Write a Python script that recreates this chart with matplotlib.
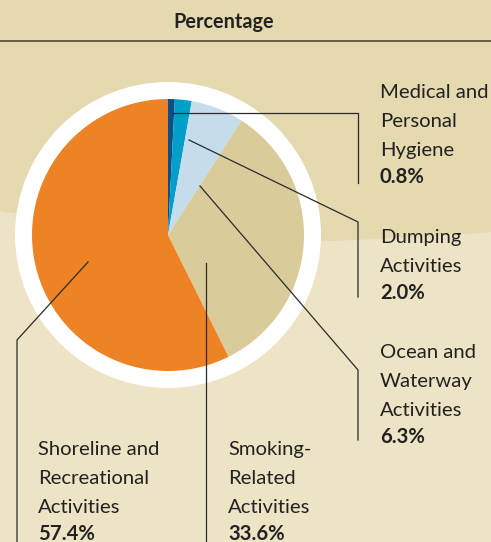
import matplotlib.pyplot as plt
from matplotlib.patches import Circle, Polygon

# data
categories = [['Medical and', 'Personal', 'Hygiene'], ['Dumping', 'Activities'],
              ['Ocean and', 'Waterway', 'Activities'], ['Smoking-', 'Related', 'Activities'],
              ['Shoreline and', 'Recreational', 'Activities']]
values = [0.8, 2.0, 6.3, 33.6, 57.4]
colors = ['#0b4f8a', '#009ec8', '#c5dcea', '#d9cc9a', '#ee8326']

W, H = 491, 542
fig = plt.figure(figsize=(W / 100, H / 100), dpi=100)
ax = fig.add_axes([0, 0, 1, 1])
plt.rcParams['font.family'] = ['Lato', 'DejaVu Sans']


def Y(py):
    return H - py


# background: light lower area, darker upper band
ax.add_patch(Polygon([(0, Y(0)), (W, Y(0)), (W, Y(232)), (420, Y(237)), (330, Y(241)),
                      (240, Y(239)), (150, Y(232)), (70, Y(222)), (0, Y(211))],
                     closed=True, facecolor='#e5d9b0', edgecolor='none', zorder=0))
ax.set_facecolor('#ede3c5')

# title
ax.text(224, Y(22), 'Percentage', ha='center', va='center', fontsize=14.3,
        fontweight='bold', color='#222222')
ax.plot([0, W], [Y(40.5), Y(40.5)], color='#5a5548', lw=1.3)

# pie with white ring
cx, cy, r = 168, Y(235), 136
ax.add_patch(Circle((cx, cy), 153, facecolor='white', edgecolor='none', zorder=1))
wedges, _ = ax.pie(values, colors=colors, startangle=90, counterclock=False,
                   center=(cx, cy), radius=r, wedgeprops=dict(linewidth=0))
for w in wedges:
    w.set_zorder(2)

# leader lines (pixel coordinates)
leaders = [
    [(173, 113), (358, 113), (358, 183)],
    [(189, 140), (358, 222), (358, 297)],
    [(200, 186), (358, 370), (358, 440)],
    [(206, 263), (206, 542)],
    [(88, 262), (17, 340), (17, 542)],
]
for pts in leaders:
    ax.plot([p[0] for p in pts], [Y(p[1]) for p in pts], color='#2b2b2b', lw=0.9, zorder=3)

# labels: x and first baseline in pixels
label_pos = [(380, 98), (380, 243), (380, 358), (228, 455), (38, 455)]
for (lx, ly), lines, v in zip(label_pos, categories, values):
    for i, line in enumerate(lines):
        ax.text(lx, Y(ly + 29 * i), line, ha='left', va='baseline', fontsize=14.6,
                color='#222222')
    ax.text(lx, Y(ly + 29 * (len(lines) - 1) + 27), f'{v:.1f}%', ha='left',
            va='baseline', fontsize=14.6, fontweight='bold', color='#222222')

ax.set_xlim(0, W)
ax.set_ylim(0, H)
ax.set_aspect('equal')
ax.axis('off')
fig.patch.set_facecolor('#ede3c5')
fig.savefig('out.png', dpi=100, facecolor=fig.get_facecolor())
